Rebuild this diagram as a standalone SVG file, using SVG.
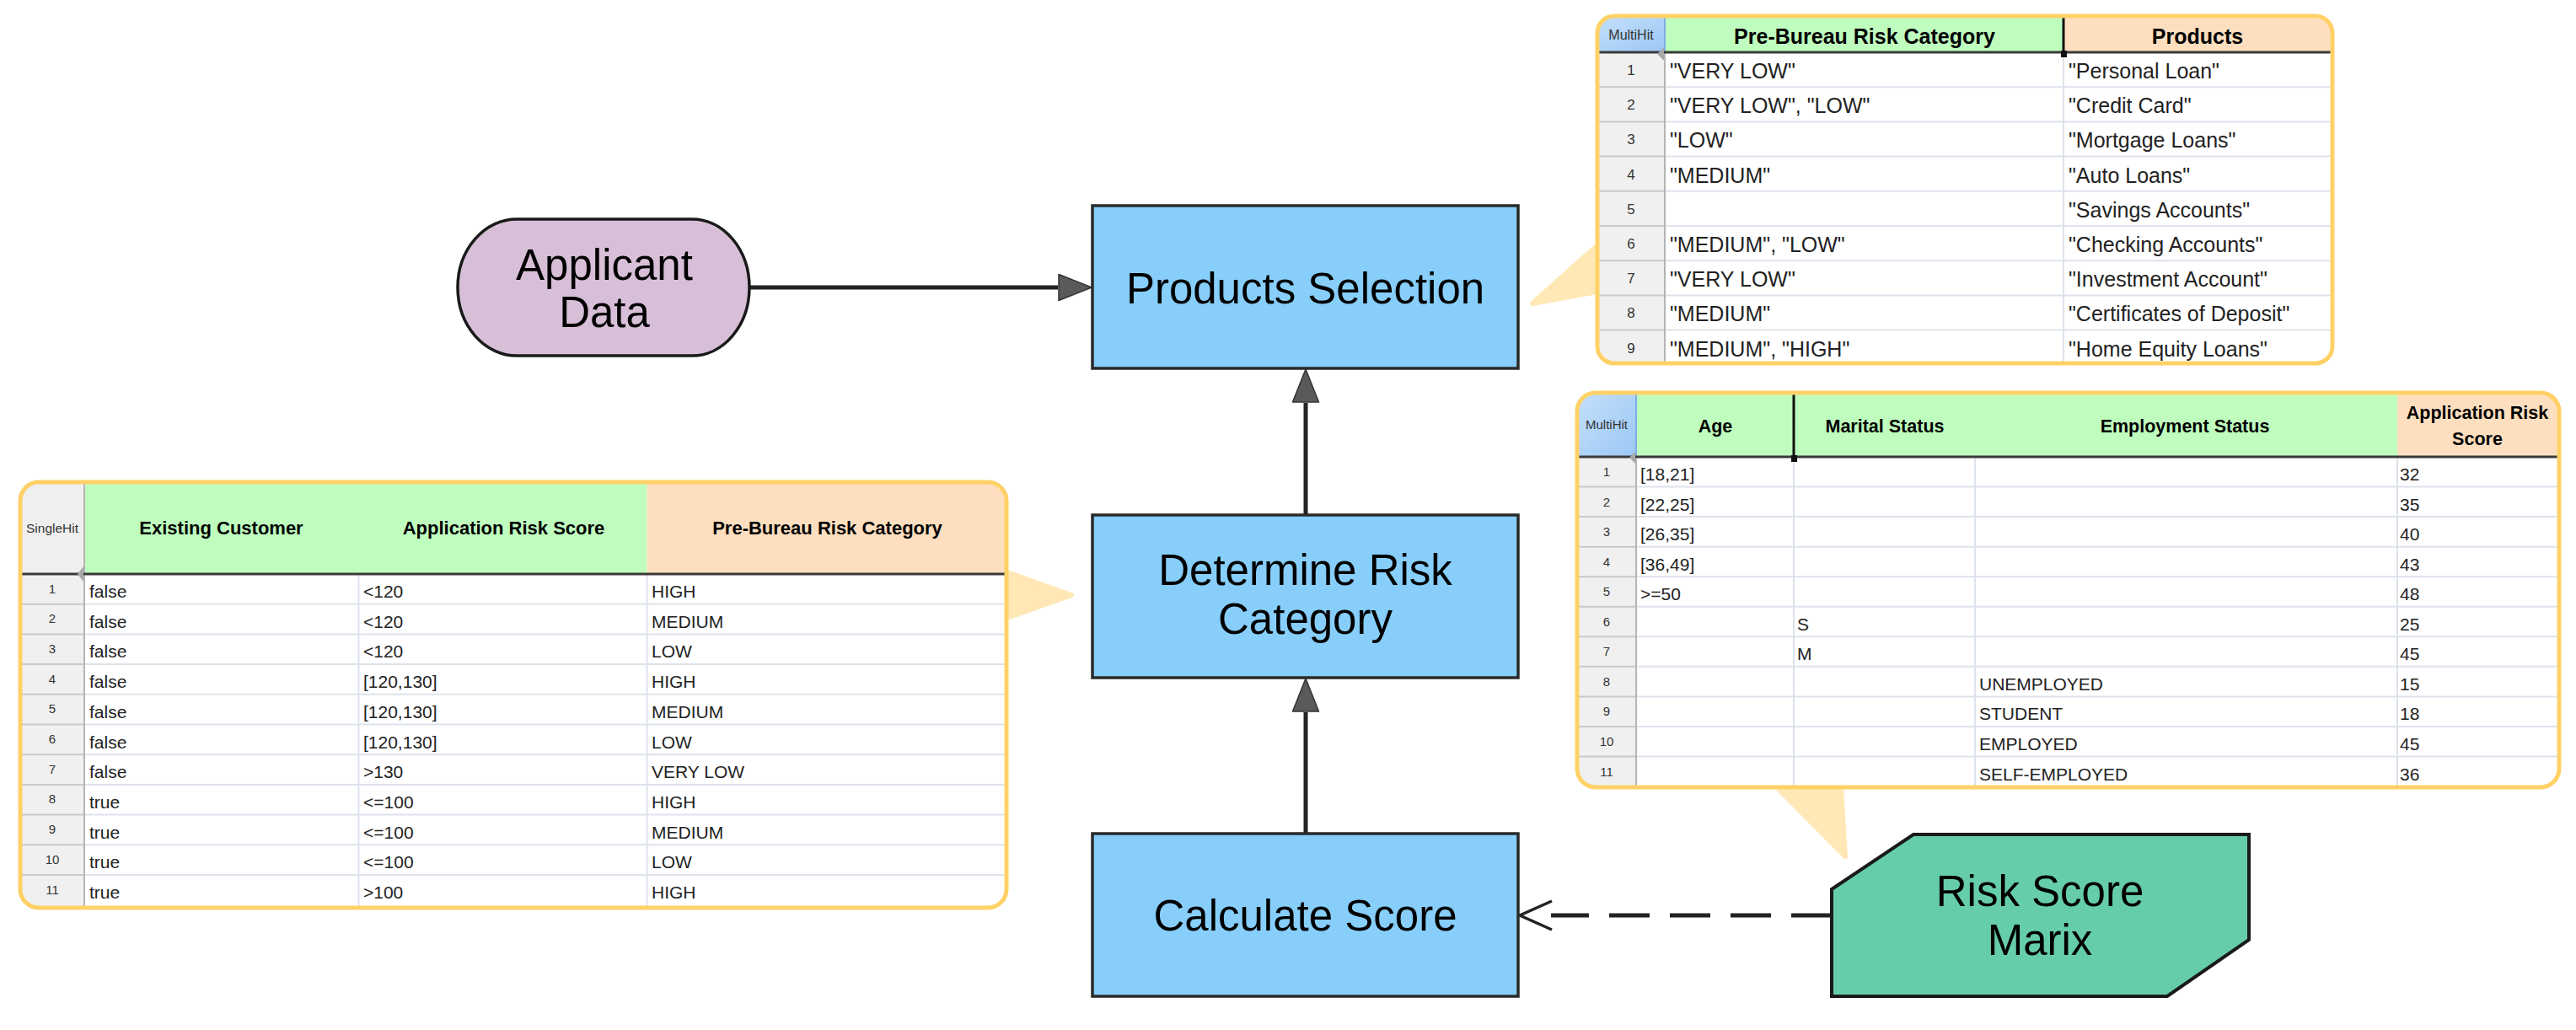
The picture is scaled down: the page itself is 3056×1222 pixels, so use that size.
<svg xmlns="http://www.w3.org/2000/svg" width="3056" height="1222" viewBox="0 0 3056 1222">
<defs>
<style>
.lbl{font-family:"Liberation Sans",Arial,sans-serif;font-size:51px;fill:#000;text-anchor:middle}
.box{fill:#87CEFA;stroke:#2a2a2a;stroke-width:3.5}
.tail{fill:#FFE8B6;stroke:#FFE8B6;stroke-width:6;stroke-linejoin:round}
.frame{fill:none;stroke:#FFD166;stroke-width:5}
.green{fill:#BFFDBE}
.orange{fill:#FDDFBF}
.gray{fill:#F0F0F0}
.white{fill:#FFFFFF}
.sep{stroke:#DDE3EC;stroke-width:2}
.sepg{stroke:#C9C9C9;stroke-width:2}
.vline{stroke:#DDE3EC;stroke-width:2}
.rnedge{stroke:#B5B5B5;stroke-width:2}
.hline{stroke:#3a3a3a;stroke-width:3}
.blk{stroke:#111;stroke-width:3}
.f{font-family:"Liberation Sans",Arial,sans-serif}
.thA{font-weight:bold;font-size:25px;fill:#000;text-anchor:middle}
.tdA{font-size:25px;fill:#222}
.rnA{font-size:17px;fill:#333;text-anchor:middle}
.th{font-weight:bold;font-size:21.5px;fill:#000;text-anchor:middle}
.td{font-size:21px;fill:#222}
.rn{font-size:15px;fill:#333;text-anchor:middle}
.hit{font-size:15px;fill:#333;text-anchor:middle}
.conn{fill:none;stroke:#222;stroke-width:5}
.dash{fill:none;stroke:#222;stroke-width:5;stroke-dasharray:48 24}
.ind{fill:#A8A8A8}
</style>
<linearGradient id="hitBlue" x1="0" y1="0" x2="1" y2="1">
<stop offset="0" stop-color="#C4E0FB"/>
<stop offset="1" stop-color="#9CC7F4"/>
</linearGradient>
<marker id="tri" viewBox="0 -17 42 34" markerWidth="42" markerHeight="34" refX="0" refY="0" orient="auto" markerUnits="userSpaceOnUse">
<path d="M1,-15.5 L40,0 L1,15.5 Z" fill="#5a5a5a" stroke="#333" stroke-width="1.5" stroke-linejoin="round"/>
</marker>
<clipPath id="clipA"><rect x="1895" y="19" width="872" height="412" rx="20"/></clipPath>
<clipPath id="clipB"><rect x="1871" y="466" width="1165" height="468" rx="22"/></clipPath>
<clipPath id="clipC"><rect x="24" y="572" width="1170" height="505" rx="22"/></clipPath>
</defs>
<rect width="3056" height="1222" fill="#FFFFFF"/>

<!-- callout tails -->
<g id="tails">
<polygon class="tail" points="1818,360 1895,291 1895,346"/>
<polygon class="tail" points="1195,679 1271,706 1195,733"/>
<polygon class="tail" points="2108,934 2189,1016 2184,934"/>
</g>

<!-- Table A: Products -->
<g id="table-products" class="f">
<g clip-path="url(#clipA)">
<rect x="1895" y="19" width="872" height="412" class="white"/>
<rect x="1895" y="19" width="80" height="43" fill="url(#hitBlue)"/>
<rect x="1975" y="19" width="473" height="43" class="green"/>
<rect x="2448" y="19" width="319" height="43" class="orange"/>
<rect x="1895" y="62" width="80" height="369" class="gray"/>
<g class="sep">
<line x1="1975" y1="103.2" x2="2767" y2="103.2"/><line x1="1975" y1="144.4" x2="2767" y2="144.4"/>
<line x1="1975" y1="185.6" x2="2767" y2="185.6"/><line x1="1975" y1="226.8" x2="2767" y2="226.8"/>
<line x1="1975" y1="268" x2="2767" y2="268"/><line x1="1975" y1="309.2" x2="2767" y2="309.2"/>
<line x1="1975" y1="350.4" x2="2767" y2="350.4"/><line x1="1975" y1="391.6" x2="2767" y2="391.6"/>
</g>
<g class="sepg">
<line x1="1895" y1="103.2" x2="1975" y2="103.2"/><line x1="1895" y1="144.4" x2="1975" y2="144.4"/>
<line x1="1895" y1="185.6" x2="1975" y2="185.6"/><line x1="1895" y1="226.8" x2="1975" y2="226.8"/>
<line x1="1895" y1="268" x2="1975" y2="268"/><line x1="1895" y1="309.2" x2="1975" y2="309.2"/>
<line x1="1895" y1="350.4" x2="1975" y2="350.4"/><line x1="1895" y1="391.6" x2="1975" y2="391.6"/>
</g>
<line class="vline" x1="2448" y1="62" x2="2448" y2="431"/>
<line class="rnedge" x1="1975" y1="62" x2="1975" y2="431"/>
<line x1="1975" y1="19" x2="1975" y2="62" stroke="#7DAEE6" stroke-width="2"/>
<line class="hline" x1="1895" y1="62" x2="2767" y2="62"/>
<line class="blk" x1="2448" y1="19" x2="2448" y2="62"/>
<rect x="2445" y="60" width="7" height="8" fill="#111"/>
<polygon class="ind" points="1974,56 1966,64 1974,72"/>
<text class="hit" x="1935" y="47" style="font-size:16px">MultiHit</text>
<text class="thA" x="2212" y="52">Pre-Bureau Risk Category</text>
<text class="thA" x="2607" y="52">Products</text>
<g class="rnA">
<text x="1935" y="89">1</text><text x="1935" y="130.2">2</text><text x="1935" y="171.4">3</text>
<text x="1935" y="212.6">4</text><text x="1935" y="253.8">5</text><text x="1935" y="295">6</text>
<text x="1935" y="336.2">7</text><text x="1935" y="377.4">8</text><text x="1935" y="418.6">9</text>
</g>
<g class="tdA">
<text x="1981" y="93">"VERY LOW"</text><text x="2454" y="93">"Personal Loan"</text>
<text x="1981" y="134.2">"VERY LOW", "LOW"</text><text x="2454" y="134.2">"Credit Card"</text>
<text x="1981" y="175.4">"LOW"</text><text x="2454" y="175.4">"Mortgage Loans"</text>
<text x="1981" y="216.6">"MEDIUM"</text><text x="2454" y="216.6">"Auto Loans"</text>
<text x="2454" y="257.8">"Savings Accounts"</text>
<text x="1981" y="299">"MEDIUM", "LOW"</text><text x="2454" y="299">"Checking Accounts"</text>
<text x="1981" y="340.2">"VERY LOW"</text><text x="2454" y="340.2">"Investment Account"</text>
<text x="1981" y="381.4">"MEDIUM"</text><text x="2454" y="381.4">"Certificates of Deposit"</text>
<text x="1981" y="422.6">"MEDIUM", "HIGH"</text><text x="2454" y="422.6">"Home Equity Loans"</text>
</g>
</g>
<rect class="frame" x="1895" y="19" width="872" height="412" rx="20"/>
</g>

<!-- Table B: Risk score matrix -->
<g id="table-score" class="f">
<g clip-path="url(#clipB)">
<rect x="1871" y="466" width="1165" height="468" class="white"/>
<rect x="1871" y="466" width="70" height="76" fill="url(#hitBlue)"/>
<rect x="1941" y="466" width="903" height="76" class="green"/>
<rect x="2844" y="466" width="192" height="76" class="orange"/>
<rect x="1871" y="542" width="70" height="392" class="gray"/>
<g class="sep">
<line x1="1941" y1="577.55" x2="3036" y2="577.55"/><line x1="1941" y1="613.1" x2="3036" y2="613.1"/>
<line x1="1941" y1="648.65" x2="3036" y2="648.65"/><line x1="1941" y1="684.2" x2="3036" y2="684.2"/>
<line x1="1941" y1="719.75" x2="3036" y2="719.75"/><line x1="1941" y1="755.3" x2="3036" y2="755.3"/>
<line x1="1941" y1="790.85" x2="3036" y2="790.85"/><line x1="1941" y1="826.4" x2="3036" y2="826.4"/>
<line x1="1941" y1="861.95" x2="3036" y2="861.95"/><line x1="1941" y1="897.5" x2="3036" y2="897.5"/>
</g>
<g class="sepg">
<line x1="1871" y1="577.55" x2="1941" y2="577.55"/><line x1="1871" y1="613.1" x2="1941" y2="613.1"/>
<line x1="1871" y1="648.65" x2="1941" y2="648.65"/><line x1="1871" y1="684.2" x2="1941" y2="684.2"/>
<line x1="1871" y1="719.75" x2="1941" y2="719.75"/><line x1="1871" y1="755.3" x2="1941" y2="755.3"/>
<line x1="1871" y1="790.85" x2="1941" y2="790.85"/><line x1="1871" y1="826.4" x2="1941" y2="826.4"/>
<line x1="1871" y1="861.95" x2="1941" y2="861.95"/><line x1="1871" y1="897.5" x2="1941" y2="897.5"/>
</g>
<g class="vline">
<line x1="2128" y1="542" x2="2128" y2="934"/><line x1="2343" y1="542" x2="2343" y2="934"/><line x1="2844" y1="542" x2="2844" y2="934"/>
</g>
<line class="rnedge" x1="1941" y1="542" x2="1941" y2="934"/>
<line x1="1941" y1="466" x2="1941" y2="542" stroke="#7DAEE6" stroke-width="2"/>
<line class="hline" x1="1871" y1="542" x2="3036" y2="542"/>
<line class="blk" x1="2128" y1="466" x2="2128" y2="542"/>
<rect x="2125" y="540" width="7" height="8" fill="#111"/>
<polygon class="ind" points="1940,536 1933,543 1940,550"/>
<text class="hit" x="1906" y="509">MultiHit</text>
<text class="th" x="2035" y="513">Age</text>
<text class="th" x="2236" y="513">Marital Status</text>
<text class="th" x="2592" y="513">Employment Status</text>
<text class="th" x="2939" y="497">Application Risk</text>
<text class="th" x="2939" y="528">Score</text>
<g class="rn">
<text x="1906" y="565">1</text><text x="1906" y="600.55">2</text><text x="1906" y="636.1">3</text>
<text x="1906" y="671.65">4</text><text x="1906" y="707.2">5</text><text x="1906" y="742.75">6</text>
<text x="1906" y="778.3">7</text><text x="1906" y="813.85">8</text><text x="1906" y="849.4">9</text>
<text x="1906" y="884.95">10</text><text x="1906" y="920.5">11</text>
</g>
<g class="td">
<text x="1946" y="570">[18,21]</text><text x="2847" y="570">32</text>
<text x="1946" y="605.55">[22,25]</text><text x="2847" y="605.55">35</text>
<text x="1946" y="641.1">[26,35]</text><text x="2847" y="641.1">40</text>
<text x="1946" y="676.65">[36,49]</text><text x="2847" y="676.65">43</text>
<text x="1946" y="712.2">&gt;=50</text><text x="2847" y="712.2">48</text>
<text x="2132" y="747.75">S</text><text x="2847" y="747.75">25</text>
<text x="2132" y="783.3">M</text><text x="2847" y="783.3">45</text>
<text x="2348" y="818.85">UNEMPLOYED</text><text x="2847" y="818.85">15</text>
<text x="2348" y="854.4">STUDENT</text><text x="2847" y="854.4">18</text>
<text x="2348" y="889.95">EMPLOYED</text><text x="2847" y="889.95">45</text>
<text x="2348" y="925.5">SELF-EMPLOYED</text><text x="2847" y="925.5">36</text>
</g>
</g>
<rect class="frame" x="1871" y="466" width="1165" height="468" rx="22"/>
</g>

<!-- Table C: Risk category -->
<g id="table-category" class="f">
<g clip-path="url(#clipC)">
<rect x="24" y="572" width="1170" height="505" class="white"/>
<rect x="24" y="572" width="76" height="109" fill="#EFEFEF"/>
<rect x="100" y="572" width="667.5" height="109" class="green"/>
<rect x="767.5" y="572" width="426.5" height="109" class="orange"/>
<rect x="24" y="681" width="76" height="396" class="gray"/>
<g class="sep">
<line x1="100" y1="716.7" x2="1194" y2="716.7"/><line x1="100" y1="752.4" x2="1194" y2="752.4"/>
<line x1="100" y1="788.1" x2="1194" y2="788.1"/><line x1="100" y1="823.8" x2="1194" y2="823.8"/>
<line x1="100" y1="859.5" x2="1194" y2="859.5"/><line x1="100" y1="895.2" x2="1194" y2="895.2"/>
<line x1="100" y1="930.9" x2="1194" y2="930.9"/><line x1="100" y1="966.6" x2="1194" y2="966.6"/>
<line x1="100" y1="1002.3" x2="1194" y2="1002.3"/><line x1="100" y1="1038" x2="1194" y2="1038"/>
</g>
<g class="sepg">
<line x1="24" y1="716.7" x2="100" y2="716.7"/><line x1="24" y1="752.4" x2="100" y2="752.4"/>
<line x1="24" y1="788.1" x2="100" y2="788.1"/><line x1="24" y1="823.8" x2="100" y2="823.8"/>
<line x1="24" y1="859.5" x2="100" y2="859.5"/><line x1="24" y1="895.2" x2="100" y2="895.2"/>
<line x1="24" y1="930.9" x2="100" y2="930.9"/><line x1="24" y1="966.6" x2="100" y2="966.6"/>
<line x1="24" y1="1002.3" x2="100" y2="1002.3"/><line x1="24" y1="1038" x2="100" y2="1038"/>
</g>
<g class="vline">
<line x1="425.5" y1="681" x2="425.5" y2="1077"/><line x1="767.5" y1="681" x2="767.5" y2="1077"/>
</g>
<line class="rnedge" x1="100" y1="572" x2="100" y2="1077"/>
<line class="hline" x1="24" y1="681" x2="1194" y2="681"/>
<polygon class="ind" points="99,672 92,681 99,690"/>
<text class="hit" x="62" y="632" style="font-size:15.5px">SingleHit</text>
<text class="th" x="262.5" y="634" style="font-size:22px">Existing Customer</text>
<text class="th" x="597.5" y="634" style="font-size:22px">Application Risk Score</text>
<text class="th" x="981.5" y="634" style="font-size:22px">Pre-Bureau Risk Category</text>
<g class="rn">
<text x="62" y="703.5">1</text><text x="62" y="739.2">2</text><text x="62" y="774.9">3</text>
<text x="62" y="810.6">4</text><text x="62" y="846.3">5</text><text x="62" y="882">6</text>
<text x="62" y="917.7">7</text><text x="62" y="953.4">8</text><text x="62" y="989.1">9</text>
<text x="62" y="1024.8">10</text><text x="62" y="1060.5">11</text>
</g>
<g class="td">
<text x="106" y="709">false</text><text x="431" y="709">&lt;120</text><text x="773" y="709">HIGH</text>
<text x="106" y="744.7">false</text><text x="431" y="744.7">&lt;120</text><text x="773" y="744.7">MEDIUM</text>
<text x="106" y="780.4">false</text><text x="431" y="780.4">&lt;120</text><text x="773" y="780.4">LOW</text>
<text x="106" y="816.1">false</text><text x="431" y="816.1">[120,130]</text><text x="773" y="816.1">HIGH</text>
<text x="106" y="851.8">false</text><text x="431" y="851.8">[120,130]</text><text x="773" y="851.8">MEDIUM</text>
<text x="106" y="887.5">false</text><text x="431" y="887.5">[120,130]</text><text x="773" y="887.5">LOW</text>
<text x="106" y="923.2">false</text><text x="431" y="923.2">&gt;130</text><text x="773" y="923.2">VERY LOW</text>
<text x="106" y="958.9">true</text><text x="431" y="958.9">&lt;=100</text><text x="773" y="958.9">HIGH</text>
<text x="106" y="994.6">true</text><text x="431" y="994.6">&lt;=100</text><text x="773" y="994.6">MEDIUM</text>
<text x="106" y="1030.3">true</text><text x="431" y="1030.3">&lt;=100</text><text x="773" y="1030.3">LOW</text>
<text x="106" y="1066">true</text><text x="431" y="1066">&gt;100</text><text x="773" y="1066">HIGH</text>
</g>
</g>
<rect class="frame" x="24" y="572" width="1170" height="505" rx="22"/>
</g>

<!-- connectors -->
<g id="connectors">
<path class="conn" d="M889,341 L1255,341" marker-end="url(#tri)"/>
<path class="conn" d="M1549,611 L1549,478" marker-end="url(#tri)"/>
<path class="conn" d="M1549,989 L1549,845" marker-end="url(#tri)"/>
<path class="dash" d="M2173,1086 L1840,1086"/>
<path d="M1841,1069 L1803,1086 L1841,1103" fill="none" stroke="#222" stroke-width="3.5" stroke-linejoin="miter"/>
</g>

<!-- nodes -->
<g id="node-applicant-data">
<path d="M613,260 H821 A68,81 0 0 1 821,422 H613 A70,81 0 0 1 613,260 Z" fill="#D8BFD8" stroke="#1a1a1a" stroke-width="3.5"/>
<text class="lbl" x="717" y="332">Applicant</text>
<text class="lbl" x="717" y="388">Data</text>
</g>
<g id="node-products-selection">
<rect class="box" x="1296" y="244" width="505" height="193"/>
<text class="lbl" x="1548.5" y="360">Products Selection</text>
</g>
<g id="node-determine-risk-category">
<rect class="box" x="1296" y="611" width="505" height="193"/>
<text class="lbl" x="1548.5" y="694">Determine Risk</text>
<text class="lbl" x="1548.5" y="752">Category</text>
</g>
<g id="node-calculate-score">
<rect class="box" x="1296" y="989" width="505" height="193"/>
<text class="lbl" x="1548.5" y="1104">Calculate Score</text>
</g>
<g id="node-risk-score-marix">
<path d="M2173,1055 L2270,990 L2668,990 L2668,1115 L2571,1182 L2173,1182 Z" fill="#66CDAA" stroke="#1a1a1a" stroke-width="4" stroke-linejoin="miter"/>
<text class="lbl" x="2420" y="1075">Risk Score</text>
<text class="lbl" x="2420" y="1133">Marix</text>
</g>
</svg>
